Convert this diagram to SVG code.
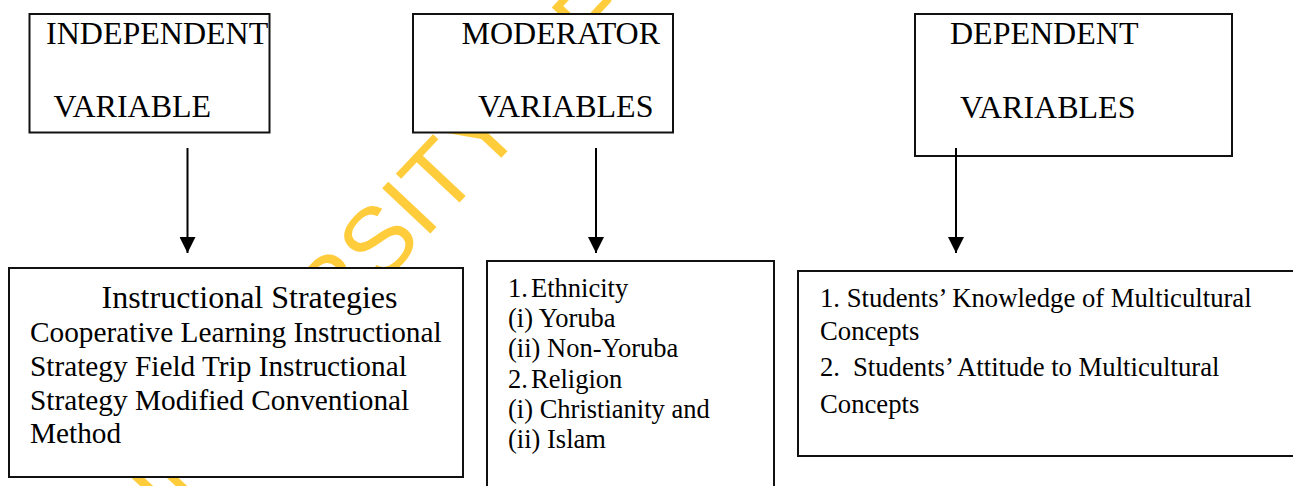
<svg xmlns="http://www.w3.org/2000/svg" width="1293" height="486" viewBox="0 0 1293 486">
  <style>
    .box { fill: #ffffff; stroke: #111111; stroke-width: 2; }
    .head { font-family: "Liberation Serif", "Times New Roman", serif; font-size: 32px; fill: #000000; }
    .t32 { font-family: "Liberation Serif", "Times New Roman", serif; font-size: 32px; fill: #000000; }
    .t29 { font-family: "Liberation Serif", "Times New Roman", serif; font-size: 29.3px; fill: #000000; }
    .t26 { font-family: "Liberation Serif", "Times New Roman", serif; font-size: 26.5px; fill: #000000; }
    .t27 { font-family: "Liberation Serif", "Times New Roman", serif; font-size: 26.7px; fill: #000000; }
    .wm { font-family: "Liberation Sans", Arial, sans-serif; font-size: 96px; fill: #ffcd3c; }
    .conn { stroke: #000000; stroke-width: 2; fill: none; }
  </style>
  <defs>
    <marker id="arrow" markerUnits="userSpaceOnUse" markerWidth="16" markerHeight="16" refX="16" refY="8" orient="auto">
      <path d="M0,0 L16,8 L0,16 z" fill="#000000"/>
    </marker>
  </defs>

  <rect width="1293" height="486" fill="#ffffff"/>

  <!-- background watermark, mostly hidden behind the white boxes -->
  <g id="watermark">
    <text class="wm" transform="translate(132,551) rotate(-46.8)">UNIVERSITY OF</text>
  </g>

  <g id="independent-variable">
    <rect class="box" x="29.5" y="14" width="240" height="118.5"/>
    <text class="head" x="46" y="43.5">INDEPENDENT</text>
    <text class="head" x="53.5" y="116.5">VARIABLE</text>
  </g>

  <g id="moderator-variables">
    <rect class="box" x="413" y="14" width="260" height="118.5"/>
    <text class="head" x="461.5" y="43.5">MODERATOR</text>
    <text class="head" x="478" y="116.5">VARIABLES</text>
  </g>

  <g id="dependent-variables">
    <rect class="box" x="915" y="14" width="317" height="142"/>
    <text class="head" x="950" y="43.5">DEPENDENT</text>
    <text class="head" x="960" y="117.5">VARIABLES</text>
  </g>

  <g id="instructional-strategies">
    <rect class="box" x="9" y="268" width="454" height="209"/>
    <text class="t32" x="101.5" y="308">Instructional Strategies</text>
    <text class="t29" x="30" y="342">Cooperative Learning Instructional</text>
    <text class="t29" x="30" y="376">Strategy Field Trip Instructional</text>
    <text class="t29" x="30" y="410">Strategy Modified Conventional</text>
    <text class="t29" x="30" y="443">Method</text>
  </g>

  <g id="moderator-list">
    <rect class="box" x="487" y="261" width="287" height="240"/>
    <text class="t26" y="297"><tspan x="508">1.</tspan><tspan x="531">Ethnicity</tspan></text>
    <text class="t26" x="508" y="327">(i) Yoruba</text>
    <text class="t26" x="508" y="357">(ii) Non-Yoruba</text>
    <text class="t26" y="388"><tspan x="508">2.</tspan><tspan x="531">Religion</tspan></text>
    <text class="t26" x="508" y="418">(i) Christianity and</text>
    <text class="t26" x="508" y="448">(ii) Islam</text>
  </g>

  <g id="outcomes">
    <rect class="box" x="798" y="271" width="510" height="185"/>
    <text class="t27" x="820" y="307">1. Students’ Knowledge of Multicultural</text>
    <text class="t27" x="820" y="340">Concepts</text>
    <text class="t27" y="376"><tspan x="820">2.</tspan><tspan x="853">Students’ Attitude to Multicultural</tspan></text>
    <text class="t27" x="820" y="413">Concepts</text>
  </g>

  <g id="connectors">
    <line class="conn" x1="187.5" y1="148" x2="187.5" y2="253" marker-end="url(#arrow)"/>
    <line class="conn" x1="596" y1="148" x2="596" y2="253" marker-end="url(#arrow)"/>
    <line class="conn" x1="956" y1="148" x2="956" y2="253" marker-end="url(#arrow)"/>
  </g>
</svg>
